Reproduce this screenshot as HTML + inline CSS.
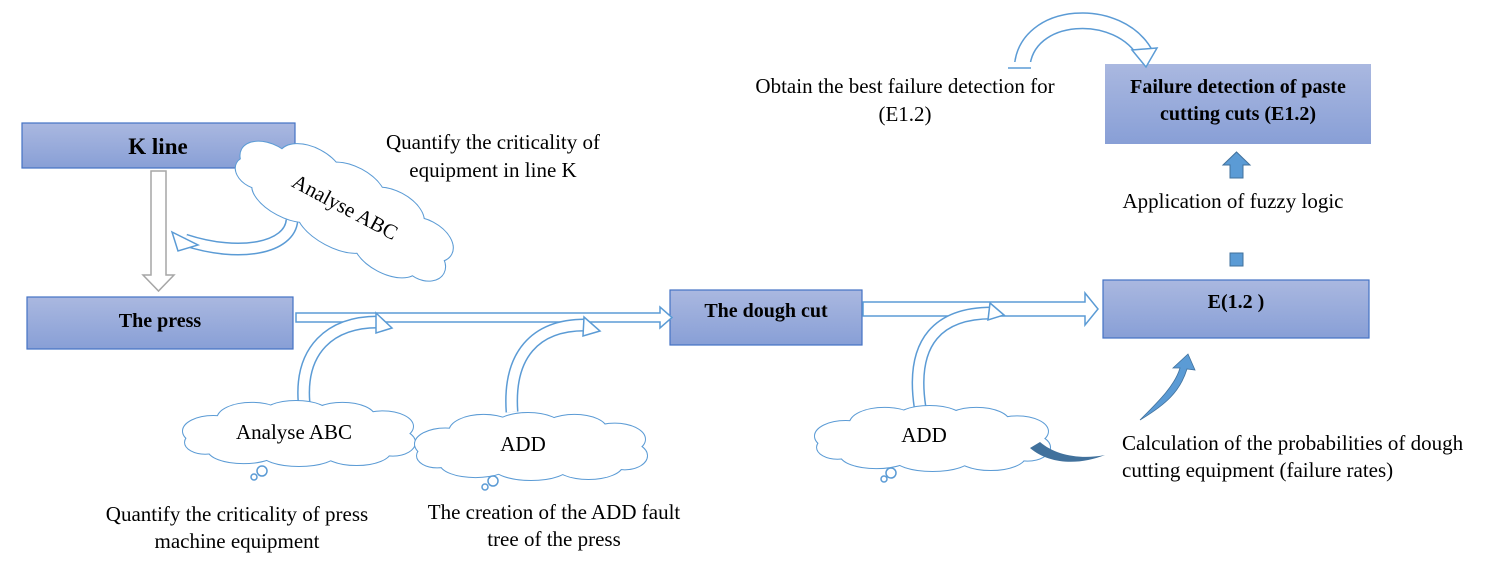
<!DOCTYPE html>
<html><head><meta charset="utf-8"><style>
html,body{margin:0;padding:0;background:#fff;}
svg{display:block;}
text{font-family:"Liberation Serif","Times New Roman",serif;fill:#000;}
.b{font-weight:bold;}
</style></head><body>
<svg width="1487" height="570" viewBox="0 0 1487 570" xmlns="http://www.w3.org/2000/svg">
<defs>
<linearGradient id="g" x1="0" y1="0" x2="0" y2="1">
<stop offset="0" stop-color="#aab8e0"/><stop offset="1" stop-color="#889fd6"/>
</linearGradient>
<symbol id="cloud" viewBox="0 0 230 70" preserveAspectRatio="none" overflow="visible">
<g fill="none" stroke="#5b9bd5" stroke-width="2">
<ellipse cx="30" cy="33" rx="30" ry="16" vector-effect="non-scaling-stroke"/>
<ellipse cx="68" cy="20" rx="34" ry="17" vector-effect="non-scaling-stroke"/>
<ellipse cx="112" cy="16" rx="34" ry="15" vector-effect="non-scaling-stroke"/>
<ellipse cx="158" cy="18" rx="32" ry="15" vector-effect="non-scaling-stroke"/>
<ellipse cx="198" cy="28" rx="30" ry="16" vector-effect="non-scaling-stroke"/>
<ellipse cx="208" cy="45" rx="22" ry="14" vector-effect="non-scaling-stroke"/>
<ellipse cx="172" cy="54" rx="34" ry="15" vector-effect="non-scaling-stroke"/>
<ellipse cx="115" cy="56" rx="38" ry="14" vector-effect="non-scaling-stroke"/>
<ellipse cx="60" cy="53" rx="35" ry="14" vector-effect="non-scaling-stroke"/>
<ellipse cx="22" cy="45" rx="20" ry="12" vector-effect="non-scaling-stroke"/>
</g>
<g fill="#fff">
<ellipse cx="30" cy="33" rx="30" ry="16"/>
<ellipse cx="68" cy="20" rx="34" ry="17"/>
<ellipse cx="112" cy="16" rx="34" ry="15"/>
<ellipse cx="158" cy="18" rx="32" ry="15"/>
<ellipse cx="198" cy="28" rx="30" ry="16"/>
<ellipse cx="208" cy="45" rx="22" ry="14"/>
<ellipse cx="172" cy="54" rx="34" ry="15"/>
<ellipse cx="115" cy="56" rx="38" ry="14"/>
<ellipse cx="60" cy="53" rx="35" ry="14"/>
<ellipse cx="22" cy="45" rx="20" ry="12"/>
<rect x="30" y="20" width="170" height="35"/>
</g>
</symbol>
</defs>

<!-- boxes -->
<rect x="22" y="123" width="273" height="45" fill="url(#g)" stroke="#4472c4" stroke-width="1.2"/>
<text x="158" y="154" font-size="23" text-anchor="middle" class="b">K line</text>
<rect x="27" y="297" width="266" height="52" fill="url(#g)" stroke="#4472c4" stroke-width="1.2"/>
<text x="160" y="327" font-size="20" text-anchor="middle" class="b">The press</text>
<rect x="670" y="290" width="192" height="55" fill="url(#g)" stroke="#4472c4" stroke-width="1.2"/>
<text x="766" y="317" font-size="20" text-anchor="middle" class="b">The dough cut</text>
<rect x="1103" y="280" width="266" height="58" fill="url(#g)" stroke="#4472c4" stroke-width="1.2"/>
<text x="1236" y="308" font-size="20" text-anchor="middle" class="b">E(1.2 )</text>
<rect x="1105" y="64" width="266" height="80" fill="url(#g)"/>
<text x="1238" y="93" font-size="20" text-anchor="middle" class="b">Failure detection of paste</text>
<text x="1238" y="120" font-size="20" text-anchor="middle" class="b">cutting cuts (E1.2)</text>

<!-- gray down arrow -->
<polygon points="151,171 166,171 166,275 174,275 158.5,291 143,275 151,275" fill="#fff" stroke="#a6a6a6" stroke-width="1.5"/>

<!-- straight arrows -->
<polygon points="296,313 660,313 660,307 672,317.5 660,328 660,322 296,322" fill="#fff" stroke="#5b9bd5" stroke-width="1.5"/>
<polygon points="863,302 1085,302 1085,293 1098,309 1085,325 1085,316 863,316" fill="#fff" stroke="#5b9bd5" stroke-width="1.5"/>

<!-- fuzzy arrows -->
<polygon points="1230,178 1243,178 1243,165 1250,165 1236.5,152 1223,165 1230,165" fill="#5b9bd5" stroke="#41719c" stroke-width="1"/>
<rect x="1230" y="253" width="13" height="13" fill="#5b9bd5" stroke="#41719c" stroke-width="1"/>

<!-- top curved arrow -->
<path d="M1022,68 C1025,10 1120,5 1146,55" fill="none" stroke="#5b9bd5" stroke-width="17"/>
<path d="M1022,68 C1025,10 1120,5 1146,55" fill="none" stroke="#fff" stroke-width="14"/>
<polygon points="1132,50 1157,48 1146,67" fill="#fff" stroke="#5b9bd5" stroke-width="1.5"/>
<rect x="1012" y="62" width="22" height="8" fill="#fff"/>
<line x1="1008" y1="68" x2="1031" y2="68" stroke="#5b9bd5" stroke-width="1.5"/>

<!-- curved arrows from bottom clouds -->
<g>
<path d="M304,402 C300,350 330,322 378,322" fill="none" stroke="#5b9bd5" stroke-width="13"/>
<path d="M304,402 C300,350 330,322 378,322" fill="none" stroke="#fff" stroke-width="10"/>
<polygon points="376,313 392,328 376,333" fill="#fff" stroke="#5b9bd5" stroke-width="1.5"/>
</g>
<g>
<path d="M512,412 C508,355 535,325 585,325" fill="none" stroke="#5b9bd5" stroke-width="13"/>
<path d="M512,412 C508,355 535,325 585,325" fill="none" stroke="#fff" stroke-width="10"/>
<polygon points="584,317 600,331 583,336" fill="#fff" stroke="#5b9bd5" stroke-width="1.5"/>
</g>
<g>
<path d="M920,407 C910,340 940,313 992,313" fill="none" stroke="#5b9bd5" stroke-width="13"/>
<path d="M920,407 C910,340 940,313 992,313" fill="none" stroke="#fff" stroke-width="10"/>
<polygon points="990,303 1004,315 988,320" fill="#fff" stroke="#5b9bd5" stroke-width="1.5"/>
</g>

<!-- curved arrow from rotated cloud to gray arrow -->
<path d="M292,220 C290,248 240,258 185,240" fill="none" stroke="#5b9bd5" stroke-width="13"/>
<path d="M292,220 C290,248 240,258 185,240" fill="none" stroke="#fff" stroke-width="10"/>
<polygon points="172,232 198,245 178,251" fill="#fff" stroke="#5b9bd5" stroke-width="1.5"/>

<!-- rotated cloud -->
<g transform="translate(345,207) rotate(28)">
<use href="#cloud" x="-118" y="-42" width="236" height="84"/>
<text x="0" y="7" font-size="21" text-anchor="middle">Analyse ABC</text>
</g>

<!-- bottom clouds -->
<use href="#cloud" x="183" y="400" width="232" height="66"/>
<text x="294" y="439" font-size="21" text-anchor="middle">Analyse ABC</text>
<circle cx="262" cy="471" r="5" fill="#fff" stroke="#5b9bd5" stroke-width="1.5"/>
<circle cx="254" cy="477" r="3" fill="#fff" stroke="#5b9bd5" stroke-width="1.5"/>
<use href="#cloud" x="415" y="412" width="232" height="68"/>
<text x="523" y="451" font-size="21" text-anchor="middle">ADD</text>
<circle cx="493" cy="481" r="5" fill="#fff" stroke="#5b9bd5" stroke-width="1.5"/>
<circle cx="485" cy="487" r="3" fill="#fff" stroke="#5b9bd5" stroke-width="1.5"/>
<use href="#cloud" x="815" y="405" width="235" height="66"/>
<text x="924" y="442" font-size="21" text-anchor="middle">ADD</text>
<circle cx="891" cy="473" r="5" fill="#fff" stroke="#5b9bd5" stroke-width="1.5"/>
<circle cx="884" cy="479" r="3" fill="#fff" stroke="#5b9bd5" stroke-width="1.5"/>

<!-- dark crescent arrow -->
<path d="M1030,448 C1050,465 1080,465 1105,455 C1080,460 1055,455 1040,442 Z" fill="#41719c"/>
<!-- blue curved arrow upward -->
<path d="M1140,420 C1160,400 1175,385 1180,368 L1173,368 L1188,354 L1195,370 L1187,369 C1180,392 1165,405 1140,420 Z" fill="#5b9bd5" stroke="#41719c" stroke-width="0.8"/>

<!-- labels -->
<text x="493" y="149" font-size="21" text-anchor="middle">Quantify the criticality of</text>
<text x="493" y="177" font-size="21" text-anchor="middle">equipment in line K</text>
<text x="905" y="93" font-size="21" text-anchor="middle">Obtain the best failure detection for</text>
<text x="905" y="121" font-size="21" text-anchor="middle">(E1.2)</text>
<text x="1233" y="208" font-size="21" text-anchor="middle">Application of fuzzy logic</text>
<text x="237" y="521" font-size="21" text-anchor="middle">Quantify the criticality of press</text>
<text x="237" y="548" font-size="21" text-anchor="middle">machine equipment</text>
<text x="554" y="519" font-size="21" text-anchor="middle">The creation of the ADD fault</text>
<text x="554" y="546" font-size="21" text-anchor="middle">tree of the press</text>
<text x="1122" y="450" font-size="21">Calculation of the probabilities of dough</text>
<text x="1122" y="477" font-size="21">cutting equipment (failure rates)</text>
</svg>
</body></html>
